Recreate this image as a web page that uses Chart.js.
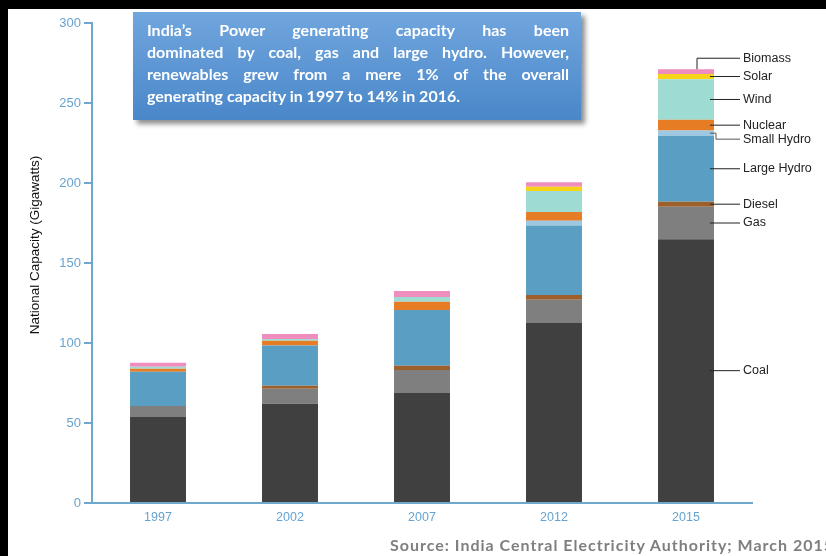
<!DOCTYPE html>
<html>
<head>
<meta charset="utf-8">
<script src="https://cdn.jsdelivr.net/npm/chart.js@4/dist/chart.umd.min.js"></script>
<style>
  html, body { margin: 0; padding: 0; background: #000; overflow: hidden; }
  #page { position: absolute; left: 8px; top: 9px; width: 818px; height: 547px; background: #fff; }
  #chart { position: absolute; left: 0; top: 0; }
  #note {
    position: absolute; left: 133px; top: 12px; width: 448px; height: 108px;
    box-sizing: border-box; padding: 7px 12px 0 14px;
    background: linear-gradient(#71a6de, #4a87c9);
    box-shadow: 4px 4px 5px rgba(0,0,0,0.45);
    color: #fff; font: bold 16px Lato, sans-serif; line-height: 22px;
  }
  #note div { text-align: justify; text-align-last: justify; white-space: nowrap; }
  #note div.last { text-align-last: left; }
  #source {
    position: absolute; left: 390px; top: 535px; white-space: nowrap;
    font: bold 16px Lato, sans-serif; letter-spacing: 1px; color: #7f7f7f;
  }
</style>
</head>
<body>
<div id="page"></div>
<canvas id="chart" width="826" height="556"></canvas>
<div id="note">
  <div>India’s Power generating capacity has been</div>
  <div>dominated by coal, gas and large hydro. However,</div>
  <div>renewables grew from a mere 1% of the overall</div>
  <div class="last">generating capacity in 1997 to 14% in 2016.</div>
</div>
<div id="source">Source: India Central Electricity Authority; March 2015</div>
<script>
const years = ["1997", "2002", "2007", "2012", "2015"];
const yTicks = [0, 50, 100, 150, 200, 250, 300];

const coal       = [54.1, 62.1, 69.0, 112.5, 164.8];
const gas        = [6.6, 9.3, 14.1, 14.6, 20.4];
const diesel     = [0, 1.9, 2.7, 2.9, 3.1];
const largeHydro = [21.3, 25.2, 34.8, 43.5, 41.2];
const smallHydro = [0, 0, 0, 2.9, 3.3];
const nuclear    = [1.9, 2.9, 5.2, 5.5, 6.7];
const wind       = [1.2, 1.1, 2.9, 13.1, 25.4];
const solar      = [0, 0, 0, 2.7, 3.3];
const biomass    = [2.5, 3.1, 3.8, 2.7, 2.9];

const series = [
  { label: "Coal", data: coal, color: "#404040" },
  { label: "Gas", data: gas, color: "#7f7f80" },
  { label: "Diesel", data: diesel, color: "#9e602b" },
  { label: "Large Hydro", data: largeHydro, color: "#5a9fc3" },
  { label: "Small Hydro", data: smallHydro, color: "#9ec8e2" },
  { label: "Nuclear", data: nuclear, color: "#e67d24" },
  { label: "Wind", data: wind, color: "#9edcd3" },
  { label: "Solar", data: solar, color: "#f7d418" },
  { label: "Biomass", data: biomass, color: "#ef8dbe" }
];

const axisColor = "#6fa8cf";
const tickColor = "#66a3d0";

// labels with leader lines on the last bar
const calloutPlugin = {
  id: "callouts",
  afterDatasetsDraw(chart) {
    const ctx = chart.ctx;
    const last = years.length - 1;
    const textX = 743;
    const lineEnd = 740;
    ctx.save();
    ctx.font = "12.5px 'Liberation Sans', sans-serif";
    ctx.textBaseline = "middle";
    ctx.fillStyle = "#222";
    ctx.strokeStyle = "#222";
    ctx.lineWidth = 1;
    chart.data.datasets.forEach((ds, i) => {
      const bar = chart.getDatasetMeta(i).data[last];
      const right = bar.x + bar.width / 2;
      const mid = (bar.y + bar.base) / 2;
      ctx.beginPath();
      let ty = mid;
      if (ds.label === "Biomass") {
        ty = bar.y - 11;
        ctx.moveTo(bar.x + 11, bar.y);
        ctx.lineTo(bar.x + 11, ty);
        ctx.lineTo(lineEnd, ty);
      } else if (ds.label === "Small Hydro") {
        ty = mid + 6;
        ctx.strokeStyle = "#555";
        ctx.moveTo(right - 4, mid);
        ctx.lineTo(right + 2, mid);
        ctx.lineTo(right + 2, ty);
        ctx.lineTo(lineEnd, ty);
      } else {
        ctx.strokeStyle = "#222";
        ctx.moveTo(right - 4, mid);
        ctx.lineTo(lineEnd, mid);
      }
      ctx.stroke();
      ctx.fillText(ds.label, textX, ty);
    });
    // y-axis title
    ctx.translate(35, 245);
    ctx.rotate(-Math.PI / 2);
    ctx.textAlign = "center";
    ctx.fillStyle = "#111";
    ctx.font = "13.5px 'Liberation Sans', sans-serif";
    ctx.fillText("National Capacity (Gigawatts)", 0, 0);
    ctx.restore();
  }
};

new Chart(document.getElementById("chart"), {
  type: "bar",
  data: {
    labels: years,
    datasets: series.map(s => ({
      label: s.label,
      data: s.data,
      backgroundColor: s.color,
      borderWidth: 0,
      categoryPercentage: 1,
      barPercentage: 0.424
    }))
  },
  options: {
    responsive: false,
    animation: false,
    layout: { padding: { top: 23, right: 74, left: 0, bottom: 0 } },
    plugins: {
      legend: { display: false },
      tooltip: { enabled: false }
    },
    scales: {
      x: {
        stacked: true,
        grid: { display: false, drawTicks: false },
        border: { display: true, color: axisColor, width: 2 },
        ticks: { color: tickColor, padding: 7, font: { family: "'Liberation Sans', sans-serif", size: 12.5 } },
        afterFit(scale) { scale.height = 53; }
      },
      y: {
        stacked: true,
        min: 0,
        max: 300,
        afterBuildTicks(scale) { scale.ticks = yTicks.map(v => ({ value: v })); },
        grid: { drawOnChartArea: false, drawTicks: true, tickLength: 8, color: axisColor, lineWidth: 2 },
        border: { display: true, color: axisColor, width: 2 },
        ticks: { color: tickColor, padding: 3, font: { family: "'Liberation Sans', sans-serif", size: 13 } },
        afterFit(scale) { scale.width = 92; }
      }
    }
  },
  plugins: [calloutPlugin]
});
</script>
</body>
</html>
